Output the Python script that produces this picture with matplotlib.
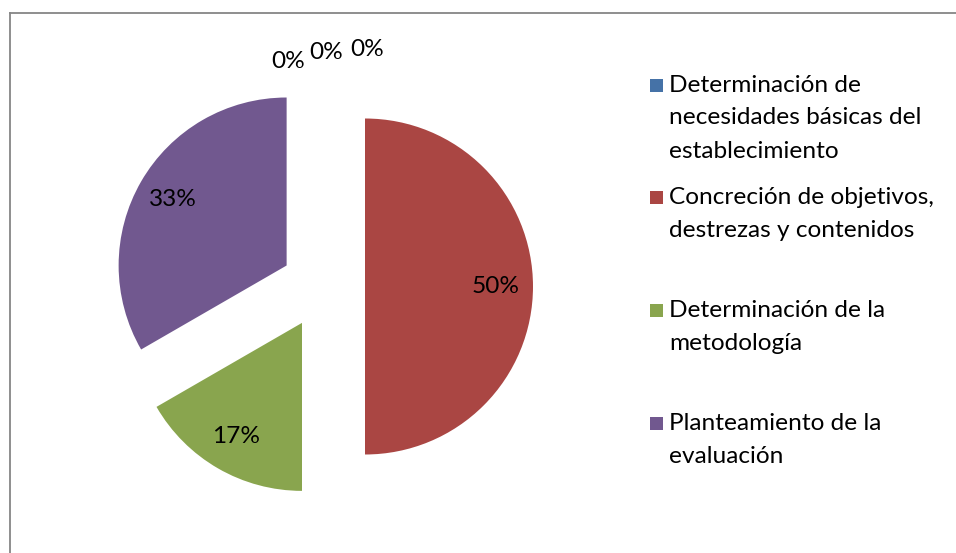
import matplotlib
matplotlib.use("Agg")
import matplotlib.pyplot as plt
import matplotlib.patches as mpatches
from matplotlib.lines import Line2D
import numpy as np

# ---- data ----
categories = [
    "Determinación de\nnecesidades básicas del\nestablecimiento",
    "Concreción de objetivos,\ndestrezas y contenidos",
    "Determinación de la\nmetodología",
    "Planteamiento de la\nevaluación",
]
values = [0, 3, 1, 2, 0, 0]          # last two: unnamed zero entries (only their labels show)
colors = ["#4572A7", "#AA4643", "#89A54E", "#71588F", "#4198AF", "#DB843D"]
zero_label_offsets = [(-0.21, 1.34), (0.02, 1.395), (0.26, 1.41)]  # where the 0% labels sit

FONT = "Lato"
FS = 17.6

W, H = 956, 553
fig = plt.figure(figsize=(W / 100, H / 100), dpi=100)
R = 168.0
cx, cy = 323.0, 286.5   # pie centre (image px, y from top)
ax = fig.add_axes([0, 0, 1, 1])

explode = [0.25] * len(values)
wedges, _ = ax.pie(values, colors=colors, startangle=90, counterclock=False,
                   explode=explode, radius=1.0,
                   wedgeprops=dict(linewidth=0))
ax.set_xlim(-cx / R, (W - cx) / R)
ax.set_ylim(-(H - cy) / R, cy / R)
ax.set_aspect("auto")
ax.axis("off")

total = sum(values)
pctd = 0.78
for w, v in zip(wedges, values):
    if v > 0:
        ang = np.deg2rad((w.theta1 + w.theta2) / 2)
        x0, y0 = w.center
        ax.text(x0 + pctd * np.cos(ang), y0 + pctd * np.sin(ang),
                f"{100 * v / total:.0f}%", ha="center", va="center",
                fontsize=FS, family=FONT, color="black")
for (dx, dy) in zero_label_offsets:
    ax.text(dx, dy, "0%", ha="center", va="center", fontsize=FS,
            family=FONT, color="black")

# ---- legend (drawn manually in pixel coordinates) ----
def px(x, y):
    return x / W, 1 - y / H

entry_step = 112.7
line_step = 33.0
for i, cat in enumerate(categories):
    y0 = 85 + entry_step * i
    sx, sy = px(650, y0 + 6.5)
    fig.add_artist(mpatches.Rectangle((sx, sy), 13 / W, 13 / H,
                                      transform=fig.transFigure,
                                      facecolor=colors[i], edgecolor="none"))
    for j, line in enumerate(cat.split("\n")):
        tx, ty = px(669, y0 + j * line_step)
        fig.text(tx, ty, line, ha="left", va="center", fontsize=FS,
                 family=FONT, color="black")

# ---- outer frame (extends past right/bottom edges) ----
fx0, fy0 = px(9.5, 12.5)
fig.add_artist(Line2D([fx0, fx0], [fy0, -0.1], transform=fig.transFigure,
                      color="#868686", linewidth=1.3))
fig.add_artist(Line2D([fx0, 1.1], [fy0, fy0], transform=fig.transFigure,
                      color="#868686", linewidth=1.3))

fig.savefig("out.png", dpi=100, facecolor="white")
